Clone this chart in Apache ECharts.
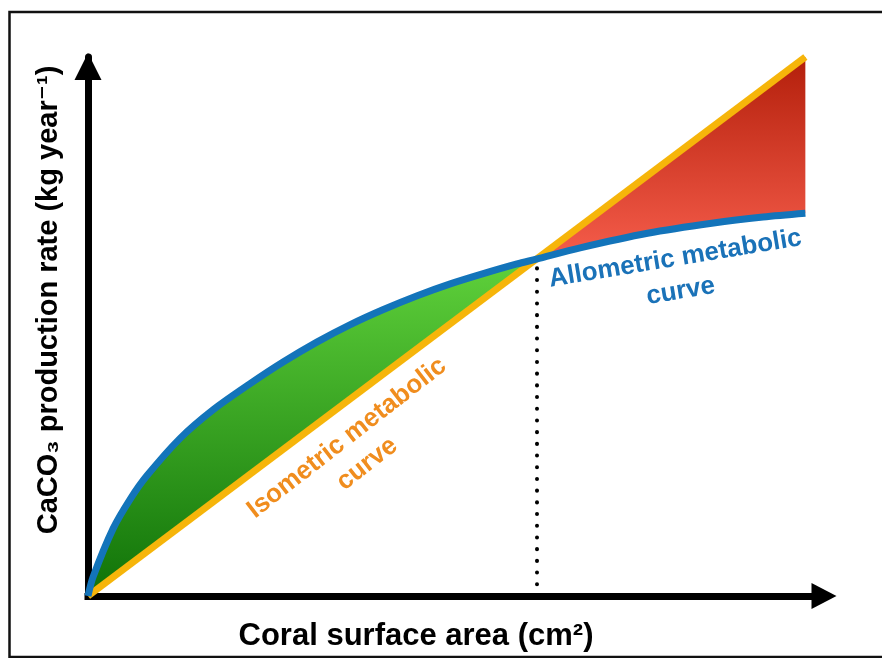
<!DOCTYPE html>
<html lang="en">

<head>
    <meta charset="UTF-8">
    <title>Coral CaCO3 production</title>
    <script src="https://cdn.jsdelivr.net/npm/echarts@6/dist/echarts.min.js"></script>
</head>

<body style="margin: 0; background: #fff">
    <div id="container" style="width: 882px; height: 658px"></div>
    <script type="text/javascript">
        // conceptual curves, arbitrary units (0..100 on both axes)
        var orangeX = [0, 100];
        var orangeY = [0, 100];
        var blueX = [0, 0.7, 3.5, 6, 8.2, 12.8, 17.4, 22.5, 27.2, 31.9, 36.5, 41.1, 45.9, 50.5, 55.1, 59.8, 62.5, 68.6, 78, 87.2, 94.1, 100];
        var blueY = [0, 3.5, 12.5, 18.2, 22.3, 29.2, 34.5, 39.3, 43.4, 47.1, 50.3, 53.1, 55.7, 57.9, 59.8, 61.6, 62.5, 64.6, 67.3, 69.2, 70.3, 71.0];
        var crossX = 62.5;
        var crossY = 62.5;

        var xTitle = 'Coral surface area (cm²)';
        var yTitle = 'CaCO₃ production rate (kg year⁻¹)';
        var isoLabel = 'Isometric metabolic\ncurve';
        var alloLabel = 'Allometric metabolic\ncurve';

        var font = "'Liberation Sans', Helvetica, Arial, 'DejaVu Sans', sans-serif";

        var dom = document.getElementById('container');
        var myChart = echarts.init(dom, null, { renderer: 'canvas' });

        var orangePts = orangeX.map(function (x, i) { return [x, orangeY[i]]; });
        var bluePts = blueX.map(function (x, i) { return [x, blueY[i]]; });
        var crossIdx = blueX.indexOf(crossX);
        // green: blue above orange, closed back to origin along orange
        var greenPts = bluePts.slice(0, crossIdx + 1);
        // red: orange above blue, right part
        var redPts = bluePts.slice(crossIdx).reverse();
        redPts.unshift(orangePts[orangePts.length - 1]);

        function polygonSeries(pts, colorTop, colorBottom) {
            return {
                type: 'custom',
                z: 1,
                silent: true,
                data: [[0, 0]],
                renderItem: function (params, api) {
                    return {
                        type: 'polygon',
                        shape: { points: pts.map(function (p) { return api.coord(p); }) },
                        style: {
                            fill: new echarts.graphic.LinearGradient(0, 0, 0, 1, [
                                { offset: 0, color: colorTop },
                                { offset: 1, color: colorBottom }
                            ])
                        }
                    };
                }
            };
        }

        var option = {
            animation: false,
            grid: { left: 88, top: 57, right: 58, bottom: 62, outerBoundsMode: 'none' },
            xAxis: {
                type: 'value',
                min: 0,
                max: 102.6,
                axisLine: {
                    show: true,
                    symbol: ['none', 'triangle'],
                    symbolSize: [26, 25],
                    lineStyle: { color: '#000', width: 7, cap: 'square' }
                },
                axisTick: { show: false },
                axisLabel: { show: false },
                splitLine: { show: false }
            },
            yAxis: {
                type: 'value',
                min: 0,
                max: 100,
                axisLine: {
                    show: true,
                    symbol: ['none', 'triangle'],
                    symbolSize: [27, 27],
                    symbolOffset: [0, -9.5],
                    lineStyle: { color: '#000', width: 7 }
                },
                axisTick: { show: false },
                axisLabel: { show: false },
                splitLine: { show: false }
            },
            series: [
                polygonSeries(greenPts, '#5fd13b', '#107208'),
                polygonSeries(redPts, '#b31f0b', '#f65d4b'),
                {
                    name: 'isometric',
                    type: 'line',
                    z: 2,
                    data: orangePts,
                    symbol: 'none',
                    lineStyle: { color: '#f6b50a', width: 7 },
                    markLine: {
                        silent: true,
                        symbol: 'none',
                        label: { show: false },
                        lineStyle: { color: '#000', width: 4, type: [0.1, 11.6], cap: 'round' },
                        data: [[{ coord: [crossX, 0] }, { coord: [crossX, crossY] }]]
                    }
                },
                {
                    name: 'allometric',
                    type: 'line',
                    z: 3,
                    data: bluePts,
                    smooth: 0.3,
                    symbol: 'none',
                    lineStyle: { color: '#1374ba', width: 7 }
                }
            ],
            graphic: [
                {
                    type: 'rect',
                    silent: true,
                    shape: { x: 9.5, y: 12, width: 900, height: 645 },
                    style: { fill: 'none', stroke: '#111', lineWidth: 2.5 }
                },
                {
                    type: 'text',
                    x: 416, y: 636,
                    style: {
                        text: xTitle, fill: '#000', align: 'center', verticalAlign: 'middle',
                        font: 'bold 31px ' + font
                    }
                },
                {
                    type: 'text',
                    x: 49, y: 300,
                    rotation: Math.PI / 2,
                    style: {
                        text: yTitle, fill: '#000', align: 'center', verticalAlign: 'middle',
                        font: 'bold 29px ' + font
                    }
                },
                {
                    type: 'text',
                    x: 357, y: 451,
                    rotation: 0.662,
                    z: 10,
                    style: {
                        text: isoLabel, fill: '#f08d1e', align: 'center', verticalAlign: 'middle',
                        font: 'bold 26px ' + font, lineHeight: 33
                    }
                },
                {
                    type: 'text',
                    x: 678, y: 275,
                    rotation: 0.164,
                    z: 10,
                    style: {
                        text: alloLabel, fill: '#1a72b8', align: 'center', verticalAlign: 'middle',
                        font: 'bold 26px ' + font, lineHeight: 33
                    }
                }
            ]
        };

        myChart.setOption(option);
        window.addEventListener('resize', myChart.resize);
    </script>
</body>

</html>
